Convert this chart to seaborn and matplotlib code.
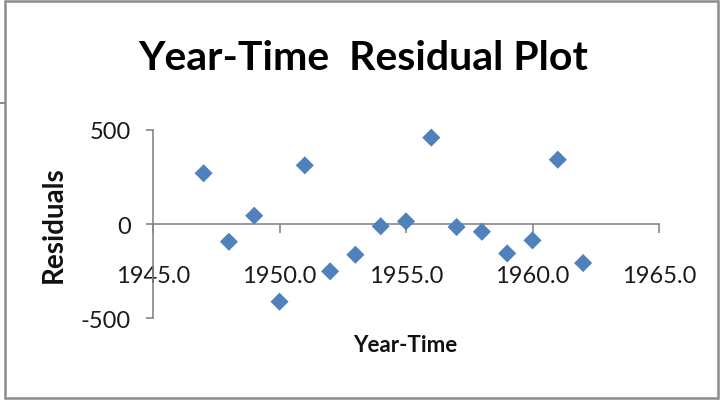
import matplotlib
matplotlib.use("Agg")
import matplotlib.pyplot as plt
from matplotlib.lines import Line2D
from matplotlib.patches import Rectangle
from matplotlib.ticker import FormatStrFormatter
import seaborn as sns
import pandas as pd

# Residuals from the year-time regression
years = [1947, 1948, 1949, 1950, 1951, 1952, 1953, 1954,
         1955, 1956, 1957, 1958, 1959, 1960, 1961, 1962]
residuals = [269, -94, 44, -412, 311, -251, -163, -12,
             14, 458, -16, -41, -156, -87, 341, -207]
x_ticks = [1945, 1950, 1955, 1960, 1965]
y_ticks = [-500, 0, 500]

df = pd.DataFrame({"Year-Time": years, "Residuals": residuals})

sns.set_style("white")
plt.rcParams["font.family"] = ["Lato", "DejaVu Sans"]
plt.rcParams["axes.unicode_minus"] = False

W, H = 723, 402
fig = plt.figure(figsize=(W / 100, H / 100), dpi=100)

# axes box in pixel coordinates
left_px, right_px, top_px, bottom_px = 153, 659, 130.7, 319.3
ax = fig.add_axes([left_px / W, 1 - bottom_px / H,
                   (right_px - left_px) / W, (bottom_px - top_px) / H])

sns.scatterplot(data=df, x="Year-Time", y="Residuals", ax=ax, marker="D",
                s=85, color="#4F81BD", edgecolor="none", zorder=3, clip_on=False)

ax.set_xlim(1945, 1965)
ax.set_ylim(-500, 500)
ax.set_xticks(x_ticks)
ax.set_yticks(y_ticks)
ax.xaxis.set_major_formatter(FormatStrFormatter("%.1f"))

axis_gray = "#868686"
for side in ("top", "right"):
    ax.spines[side].set_visible(False)
ax.spines["bottom"].set_position(("data", 0))
for side in ("bottom", "left"):
    ax.spines[side].set_color(axis_gray)
    ax.spines[side].set_linewidth(1.2)

ax.tick_params(axis="x", direction="out", length=6.5, width=1.2, color=axis_gray,
               pad=23, labelsize=17, labelcolor="#1a1a1a")
ax.tick_params(axis="y", direction="out", length=5, width=1.2, color=axis_gray,
               pad=11, labelsize=17, labelcolor="#1a1a1a")
ax.tick_params(axis="both", which="both", bottom=True, left=True)

ax.set_xlabel("")
ax.set_ylabel("")
fig.text(405 / W, 1 - 346 / H, "Year-Time", ha="center", va="center",
         fontsize=16, fontweight="bold", color="#111111")
fig.text(54 / W, 1 - 225 / H, "Residuals", ha="center", va="center",
         rotation=90, fontsize=20, fontweight="bold", color="#111111")
fig.text(363 / W, 1 - 59 / H, "Year-Time  Residual Plot", ha="center",
         va="center", fontsize=29.5, fontweight="bold", color="black")

# chart frame
fig.patches.append(Rectangle((5 / W, 1 - 399 / H), 713 / W, 397 / H,
                             transform=fig.transFigure, fill=False,
                             edgecolor="#8c8c8c", linewidth=1.8))
fig.lines.append(Line2D([0, 5 / W], [1 - 104 / H, 1 - 104 / H],
                        transform=fig.transFigure, color="#8c8c8c", linewidth=1.5))

fig.savefig("out.png", dpi=100)
